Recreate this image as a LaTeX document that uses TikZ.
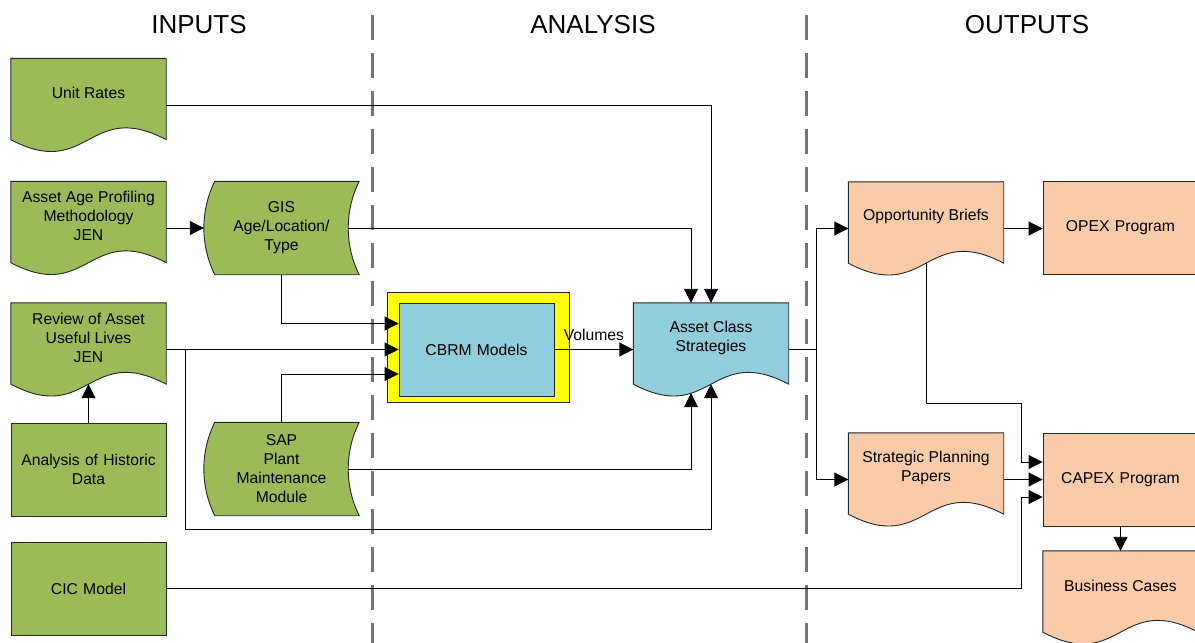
\documentclass[tikz,border=0pt]{standalone}
\usepackage{fontspec}
\setmainfont{Liberation Sans}
\usetikzlibrary{arrows.meta,calc}
\definecolor{gfill}{HTML}{9BBB59}
\definecolor{bfill}{HTML}{92CDDC}
\definecolor{ofill}{HTML}{F9CBA8}
\definecolor{yfill}{HTML}{FFFF00}
\definecolor{edge}{HTML}{262626}
\newcommand\shapefont{\fontsize{15.7}{19}\selectfont}
\newcommand\titlefont{\fontsize{26}{30}\selectfont}
\newcommand\docshape[2]{\filldraw[shp,fill=#2] (#1.north west) -- (#1.north east) -- ([yshift=12pt]#1.south east) .. controls ([yshift=53pt]#1.south) and ([yshift=-29pt]#1.south) .. ([yshift=12pt]#1.south west) -- cycle;}
\newcommand\storedshape[2]{\filldraw[shp,fill=#2] ([xshift=11pt]#1.north west) -- (#1.north east) .. controls ([xshift=-14.6pt,yshift=-29.2pt]#1.north east) and ([xshift=-14.6pt,yshift=29.2pt]#1.south east) .. (#1.south east) -- ([xshift=11pt]#1.south west) .. controls ([xshift=-3.6pt,yshift=29.2pt]#1.south west) and ([xshift=-3.6pt,yshift=-29.2pt]#1.north west) .. ([xshift=11pt]#1.north west) -- cycle;}
\tikzset{
  base/.style={minimum width=155pt, minimum height=93pt, inner sep=0pt, font=\shapefont, align=center, text width=150pt},
  txt/.style={font=\shapefont, align=center, inner sep=0pt},
  shp/.style={draw=edge, line width=0.9pt},
  boxg/.style={base, shp, fill=gfill},
  boxo/.style={base, shp, fill=ofill},
  conn/.style={draw=black, line width=0.9pt, -{Triangle[length=14pt,width=14pt]}},
  plainline/.style={draw=black, line width=0.9pt},
  divider/.style={draw=black!55, line width=3pt, dash pattern=on 25pt off 13pt},
  title/.style={font=\titlefont, inner sep=0pt},
}
\begin{document}
\begin{tikzpicture}[x=1pt,y=-1pt]
\useasboundingbox (0,0) rectangle (1195,643);
\clip (0,0) rectangle (1195,643);
\fill[white] (0,0) rectangle (1195,643);

% dividers
\draw[divider] (372,15) -- (372,660);
\draw[divider] (806,15) -- (806,660);

% titles
\node[title] (tin) at (199,25) {INPUTS};
\node[title] (tan) at (593,25) {ANALYSIS};
\node[title] (tout) at (1027,25) {OUTPUTS};

% nodes (geometry)
\node[base] (unit) at (88.5,105) {};
\node[base] (aap) at (88.5,228) {};
\node[base] (gis) at (281.5,228) {};
\node[base] (review) at (88.5,349.5) {};
\node[base] (sap) at (281.5,469) {};
\node[base] (acs) at (711,349.5) {};
\node[base] (opp) at (926,228.5) {};
\node[base] (spp) at (926,479.5) {};
\node[base] (bc) at (1120.5,597.5) {};

% shapes
\docshape{unit}{gfill}
\docshape{aap}{gfill}
\docshape{review}{gfill}
\storedshape{gis}{gfill}
\storedshape{sap}{gfill}
\docshape{acs}{bfill}
\docshape{opp}{ofill}
\docshape{spp}{ofill}
\docshape{bc}{ofill}

% texts of the drawn shapes
\node[txt] (unit-t) at ([yshift=12pt]unit.center) {Unit Rates};
\node[txt] (aap-t) at ([yshift=12pt]aap.center) {Asset Age Profiling\\Methodology\\JEN};
\node[txt] (review-t) at ([yshift=12pt]review.center) {Review of Asset\\Useful Lives\\JEN};
\node[txt] (acs-t) at ([yshift=12pt]acs.center) {Asset Class\\Strategies};
\node[txt] (opp-t) at ([yshift=12pt]opp.center) {Opportunity Briefs};
\node[txt] (spp-t) at ([yshift=12pt]spp.center) {Strategic Planning\\Papers};
\node[txt] (bc-t) at ([yshift=12pt]bc.center) {Business Cases};
\node[txt] (gis-t) at (gis.center) {GIS\\Age/Location/\\Type};
\node[txt] (sap-t) at (sap.center) {SAP\\Plant\\Maintenance\\Module};

\node[boxg] (hist) at (88.5,469.5) {Analysis of Historic\\Data};
\node[boxg] (cic) at (88.5,588.5) {CIC Model};
\filldraw[shp, fill=yfill] (387,292) rectangle (569,402);
\node[base, shp, fill=bfill] (cbrm) at (476.5,349.5) {CBRM Models};
\node[boxo] (opex) at (1120.5,228) {OPEX Program};
\node[boxo] (capex) at (1120.5,479.5) {CAPEX Program};

% junctions
\coordinate (rj) at (185,349.5);
\coordinate (aj) at (816,349.5);
\coordinate (j2) at (1021,403);
\coordinate (j3) at (cic.east -| j2);

% connectors
\draw[conn] (unit.east) -| (acs.north);
\draw[conn] (aap.east) -- (gis.west);
\draw[conn] ([xshift=-11pt]gis.east) -| ([xshift=-20pt]acs.north);
\draw[conn] (gis.south) |- ([yshift=26pt]cbrm.west);
\draw[conn] (review.east) -- (cbrm.west);
\draw[conn] (sap.north) |- ([yshift=-24.5pt]cbrm.west);
\draw[conn] (rj) |- ($(acs.south)+(0,133)$) -- ([yshift=12pt]acs.south);
\draw[conn] ([xshift=-11pt]sap.east) -| ([xshift=-20pt,yshift=3pt]acs.south);
\draw[conn] (hist.north) -- ([yshift=12pt]review.south);
\draw[conn] (cbrm.east) -- node[above=8pt, inner sep=0pt, font=\shapefont] {Volumes} (cbrm.east -| acs.west);
\draw[plainline] (acs.east) -- (aj);
\draw[conn] (aj) |- (opp.west);
\draw[conn] (aj) |- (spp.west);
\draw[conn] (opp.east) -- (opp.east -| opex.west);
\draw[conn] ([yshift=12pt]opp.south) |- (j2) |- ([yshift=17.5pt]capex.west);
\draw[conn] (spp.east) -- (capex.west);
\draw[conn] (cic.east) -- (j3) |- ([yshift=-17.5pt]capex.west);
\draw[conn] (capex.south) -- (bc.north);
\end{tikzpicture}
\end{document}
